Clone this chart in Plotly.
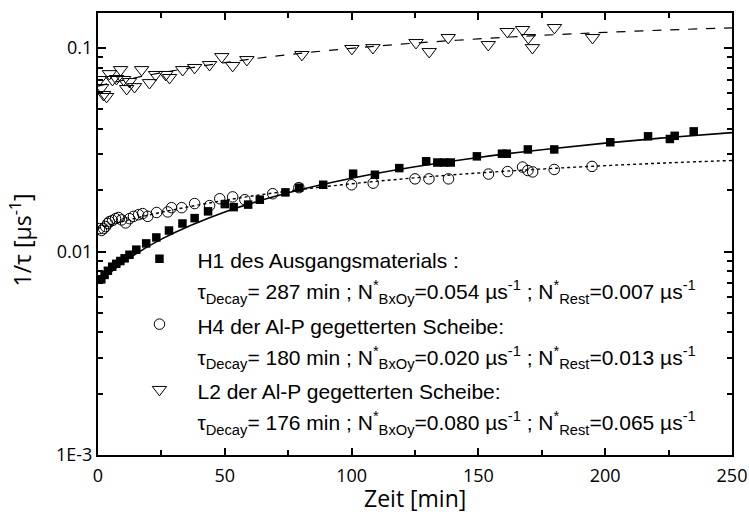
import plotly.graph_objects as go

# ---------------- data ----------------
h1_t = [1.3, 2.6, 3.9, 5.6, 7.2, 8.8, 10.5, 12.4, 15.1, 19.0, 23.0, 28.0, 33.3, 38.1, 43.4,
        50.0, 53.5, 59.2, 63.8, 73.9, 79.3, 88.8, 100.6, 109.2, 118.8, 129.4, 133.8, 136.5,
        139.1, 149.4, 159.3, 161.2, 169.5, 179.9, 202.0, 216.9, 225.5, 227.4, 234.9]
h1_y = [0.00730, 0.00767, 0.00804, 0.00842, 0.00870, 0.00898, 0.00926, 0.00964, 0.01021, 0.01096,
        0.01172, 0.01268, 0.01373, 0.01459, 0.01575, 0.01710, 0.01652, 0.01700, 0.01797, 0.01952,
        0.02059, 0.02128, 0.02412, 0.02383, 0.02569, 0.02777, 0.02737, 0.02737, 0.02737, 0.02935,
        0.03024, 0.03024, 0.03173, 0.03173, 0.03442, 0.03682, 0.03572, 0.03702, 0.03893]

h4_t = [0.6, 1.4, 2.2, 3.0, 3.8, 4.5, 5.7, 6.9, 8.1, 9.3, 10.9, 12.4, 14.0, 16.0, 17.6, 19.6,
        23.1, 27.5, 29.0, 33.0, 38.1, 44.0, 48.0, 53.1, 57.9, 68.9, 79.2, 100.0, 108.5, 125.0,
        130.5, 138.2, 154.0, 161.5, 167.4, 169.5, 171.4, 179.9, 194.8]
h4_y = [0.01296, 0.01268, 0.01296, 0.01325, 0.01373, 0.01402, 0.01421, 0.01450, 0.01469, 0.01430,
        0.01382, 0.01450, 0.01488, 0.01517, 0.01536, 0.01488, 0.01555, 0.01565, 0.01642, 0.01642,
        0.01720, 0.01681, 0.01817, 0.01855, 0.01797, 0.01923, 0.02059, 0.02128, 0.02167, 0.02275,
        0.02275, 0.02275, 0.02402, 0.02471, 0.02599, 0.02500, 0.02461, 0.02530, 0.02619]

l2_t = [0.6, 1.4, 2.2, 3.4, 4.5, 5.7, 7.3, 8.9, 10.1, 11.3, 12.4, 14.4, 17.2, 20.3, 22.7, 26.7,
        28.2, 33.4, 38.1, 44.0, 48.8, 53.1, 58.7, 80.4, 100.1, 108.4, 125.4, 130.6, 138.1, 153.9,
        161.4, 167.4, 169.7, 171.3, 180.0, 195.0]
l2_y = [0.0699, 0.0638, 0.0590, 0.0577, 0.0747, 0.0699, 0.0707, 0.0782, 0.0699, 0.0631, 0.0683,
        0.0645, 0.0782, 0.0675, 0.0740, 0.0740, 0.0715, 0.0782, 0.0801, 0.0828, 0.0906, 0.0819,
        0.0876, 0.0928, 0.0993, 0.1003, 0.1062, 0.0959, 0.1124, 0.1038, 0.1203, 0.1231, 0.1124,
        0.1003, 0.1259, 0.1124]

fit_t = [0, 10, 25, 50, 75, 100, 125, 150, 175, 200, 225, 250]
h1_fit = [0.00700, 0.00885, 0.01150, 0.01563, 0.01942, 0.02289, 0.02607, 0.02898, 0.03165, 0.03410, 0.03634, 0.03840]
h4_fit = [0.01300, 0.01408, 0.01559, 0.01785, 0.01982, 0.02152, 0.02301, 0.02431, 0.02543, 0.02642, 0.02727, 0.02801]
l2_fit = [0.06500, 0.06942, 0.07559, 0.08478, 0.09276, 0.09968, 0.10568, 0.11088, 0.11540, 0.11932, 0.12272, 0.12567]

y_tickvals = [0.001, 0.01, 0.1]
y_ticktext = ["1E-3", "0.01", "0.1"]

legend_lines = [
    ["H1 des Ausgangsmaterials :",
     "τ<sub>Decay</sub>= 287 min ; N<sup>*</sup><sub>BxOy</sub>=0.054 µs<sup>-1</sup> ; N<sup>*</sup><sub>Rest</sub>=0.007 µs<sup>-1</sup>"],
    ["H4 der Al-P gegetterten Scheibe:",
     "τ<sub>Decay</sub>= 180 min ; N<sup>*</sup><sub>BxOy</sub>=0.020 µs<sup>-1</sup> ; N<sup>*</sup><sub>Rest</sub>=0.013 µs<sup>-1</sup>"],
    ["L2 der Al-P gegetterten Scheibe:",
     "τ<sub>Decay</sub>= 176 min ; N<sup>*</sup><sub>BxOy</sub>=0.080 µs<sup>-1</sup> ; N<sup>*</sup><sub>Rest</sub>=0.065 µs<sup>-1</sup>"],
]


def legend_name(lines):
    return "<br>".join("<span style='font-size:21px'>" + ln + "</span>" for ln in lines)


# ---------------- figure ----------------
fig = go.Figure()

fig.add_trace(go.Scatter(x=fit_t, y=h1_fit, mode="lines", line=dict(color="black", width=1.6, shape="spline"),
                         showlegend=False, hoverinfo="skip"))
fig.add_trace(go.Scatter(x=fit_t, y=h4_fit, mode="lines", line=dict(color="black", width=1.4, dash="dot", shape="spline"),
                         showlegend=False, hoverinfo="skip"))
fig.add_trace(go.Scatter(x=fit_t, y=l2_fit, mode="lines", line=dict(color="black", width=1.2, dash="dash", shape="spline"),
                         showlegend=False, hoverinfo="skip"))

fig.add_trace(go.Scatter(x=h1_t, y=h1_y, mode="markers", name=legend_name(legend_lines[0]),
                         marker=dict(symbol="square", size=8.5, color="black", line=dict(width=0))))
fig.add_trace(go.Scatter(x=h4_t, y=h4_y, mode="markers", name=legend_name(legend_lines[1]),
                         marker=dict(symbol="circle-open", size=10.5, color="black", line=dict(width=1))))
fig.add_trace(go.Scatter(x=l2_t, y=l2_y, mode="markers", name=legend_name(legend_lines[2]),
                         marker=dict(symbol="triangle-down-open", size=12.5, color="black", line=dict(width=1))))

minor_y = [m * 10 ** e for e in (-3, -2, -1) for m in range(2, 10)]

fig.update_layout(
    width=749, height=515,
    margin=dict(l=98, r=17, t=13, b=60),
    paper_bgcolor="white", plot_bgcolor="white",
    font=dict(family="Open Sans", color="black"),
    legend=dict(
        x=0.037, y=0.494, xanchor="left", yanchor="top",
        bgcolor="rgba(0,0,0,0)", borderwidth=0,
        font=dict(family="Liberation Sans", size=24, color="black"),
        itemwidth=66, valign="top", tracegroupgap=0,
    ),
    xaxis=dict(
        range=[0, 250], tickmode="linear", tick0=0, dtick=50,
        ticks="inside", ticklen=7, tickwidth=1.5, tickcolor="black",
        showline=True, linewidth=2, linecolor="black", mirror="ticks",
        showgrid=False, zeroline=False, automargin=False,
        tickfont=dict(family="Open Sans", size=18), ticklabelstandoff=3,
        minor=dict(dtick=25, ticks="inside", ticklen=5, tickwidth=1.5, tickcolor="black", showgrid=False),
    ),
    yaxis=dict(
        type="log", range=[-3, -0.828],
        tickmode="array", tickvals=y_tickvals, ticktext=y_ticktext,
        ticks="inside", ticklen=8, tickwidth=1.5, tickcolor="black",
        showline=True, linewidth=2, linecolor="black", mirror="ticks",
        showgrid=False, zeroline=False, automargin=False,
        tickfont=dict(family="Open Sans", size=18), ticklabelstandoff=0,
        minor=dict(tickmode="array", tickvals=minor_y, ticks="inside", ticklen=5, tickwidth=1.5,
                   tickcolor="black", showgrid=False),
    ),
)

fig.add_annotation(
    text="Zeit [min]", xref="paper", yref="paper", x=0.5, y=-0.097,
    xanchor="center", yanchor="middle", showarrow=False,
    font=dict(family="Open Sans", size=23, color="black"),
)
fig.add_annotation(
    text="1/τ [µs<sup>-1</sup>]", xref="paper", yref="paper", x=-0.121, y=0.486,
    xanchor="center", yanchor="middle", textangle=-90, showarrow=False,
    font=dict(family="Open Sans", size=23, color="black"),
)

fig.write_html("out.html")
